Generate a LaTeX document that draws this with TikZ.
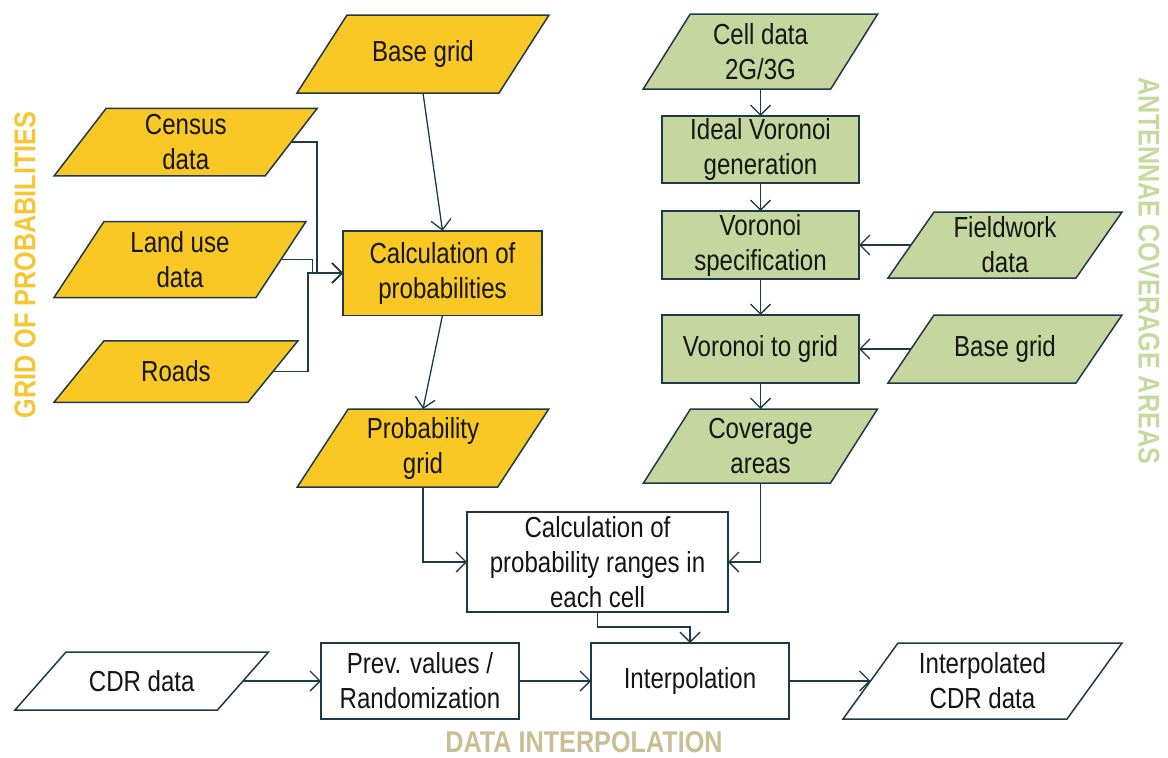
\documentclass[tikz,border=0pt]{standalone}
\usepackage{fontspec}
\setmainfont{Liberation Sans}[FakeStretch=0.83]
\newfontfamily\headfont{Liberation Sans}[FakeStretch=0.84]
\usetikzlibrary{arrows.meta,backgrounds}

\definecolor{edge}{HTML}{1E3A48}
\definecolor{gridyellow}{HTML}{F9C824}
\definecolor{cellgreen}{HTML}{C5D69F}
\definecolor{headyellow}{HTML}{F7C633}
\definecolor{headgreen}{HTML}{C6DA9F}
\definecolor{headtan}{HTML}{C9BF94}
\definecolor{ink}{HTML}{151515}

\pgfdeclarelayer{paper}
\pgfsetlayers{paper,background,main}

\tikzset{
  boxline/.style={draw=edge, line width=1.5pt, line join=miter},
  iotext/.style={inner sep=0pt, outer sep=0pt, align=center, text=ink},
  procbox/.style={boxline, inner sep=0pt, outer sep=0pt, align=center, text=ink},
  flow/.style={draw=edge, line width=1.3pt,
    -{Straight Barb[length=10pt,width=20pt]}},
  heading/.style={font=\headfont\bfseries\fontsize{30}{30}\selectfont, inner sep=0pt}
}

% input/output parallelogram: name, x, y, width, height, half slant, fill, label
\newcommand\iobox[8]{%
  \node[iotext, minimum width=#4, minimum height=#5] (#1) at (#2,#3) {#8};
  \begin{pgfonlayer}{background}
    \draw[boxline, fill=#7]
      ([xshift=-#6]#1.south west) -- ([xshift=-#6]#1.south east) --
      ([xshift=#6]#1.north east) -- ([xshift=#6]#1.north west) -- cycle;
  \end{pgfonlayer}%
}

\begin{document}
\begin{tikzpicture}[x=1pt, y=-1pt, font=\fontsize{29}{35}\selectfont]
\begin{pgfonlayer}{paper}
  \fill[white] (0,0) rectangle (1168,758);
\end{pgfonlayer}
\useasboundingbox (0,0) rectangle (1168,758);

% grid of probabilities
\iobox{basegrid}{423}{54}{202}{78}{25}{gridyellow}{Base grid}
\iobox{census}{185.75}{142}{211}{67.5}{26}{gridyellow}{Census\\data}
\iobox{landuse}{180}{259.5}{202}{76}{25}{gridyellow}{Land use\\data}
\iobox{roads}{176}{371.5}{194}{61.5}{25}{gridyellow}{Roads}
\node[procbox, fill=gridyellow, minimum width=199, minimum height=84.5] (calcprob) at (442.5,273) {Calculation of\\probabilities};
\iobox{probgrid}{423}{448}{200.5}{78}{25.5}{gridyellow}{Probability\\grid}

% antennae coverage areas
\iobox{cell}{760.5}{51.5}{187.5}{75}{23.5}{cellgreen}{Cell data\\2G/3G}
\node[procbox, fill=cellgreen, minimum width=197, minimum height=67] (ideal) at (760.5,149.5) {Ideal Voronoi\\generation};
\node[procbox, fill=cellgreen, minimum width=197, minimum height=68] (vspec) at (760.5,245) {Voronoi\\specification};
\iobox{fieldwork}{1005}{245}{188}{66}{23}{cellgreen}{Fieldwork\\data}
\node[procbox, fill=cellgreen, minimum width=197, minimum height=68] (vgrid) at (760.5,349) {Voronoi to grid};
\iobox{basegridb}{1005}{349}{188}{68}{23}{cellgreen}{Base grid}
\iobox{coverage}{760.5}{446}{187}{74}{23.5}{cellgreen}{Coverage\\areas}

% combination and interpolation
\node[procbox, fill=white, minimum width=261, minimum height=100] (ranges) at (597.5,562) {Calculation of\\probability ranges in\\each cell};
\iobox{cdr}{141.75}{681}{202.5}{58}{25.5}{white}{CDR data}
\node[procbox, fill=white, minimum width=198, minimum height=76] (prev) at (420,681) {Prev. values /\\Randomization};
\node[procbox, fill=white, minimum width=198, minimum height=76] (interp) at (690,681) {Interpolation};
\iobox{icdr}{982.5}{681}{224}{76}{27.5}{white}{Interpolated\\CDR data}

% junction points of the elbow connectors
\coordinate (cj) at (317,273);
\coordinate (lj) at (312.5,273);
\coordinate (rj) at (308,273);
\coordinate (rk) at (690,627);

% connectors
\draw[flow] (basegrid.south) -- (calcprob.north);
\draw[flow] (census.east) -| (cj) -- (calcprob.west);
\draw[flow] (landuse.east) -| (lj) -- (calcprob.west);
\draw[flow] (roads.east) -| (rj) -- (calcprob.west);
\draw[flow] (calcprob.south) -- (probgrid.north);

\draw[flow] (cell.south) -- (ideal.north);
\draw[flow] (ideal.south) -- (vspec.north);
\draw[flow] (fieldwork.west) -- (vspec.east);
\draw[flow] (vspec.south) -- (vgrid.north);
\draw[flow] (basegridb.west) -- (vgrid.east);
\draw[flow] (vgrid.south) -- (coverage.north);

\draw[flow] (probgrid.south) |- (ranges.west);
\draw[flow] (coverage.south) |- (ranges.east);
\draw[flow] (ranges.south) |- (rk) -- (interp.north);

\draw[flow] (cdr.east) -- (prev.west);
\draw[flow] (prev.east) -- (interp.west);
\draw[flow] (interp.east) -- (icdr.west);

% section headings
\node[heading, text=headyellow, rotate=90] (hgrid) at (25,265) {GRID OF PROBABILITIES};
\node[heading, text=headgreen, rotate=-90] (hant) at (1149,271) {ANTENNAE COVERAGE AREAS};
\node[heading, text=headtan] (hdata) at (584,742) {DATA INTERPOLATION};
\end{tikzpicture}
\end{document}
